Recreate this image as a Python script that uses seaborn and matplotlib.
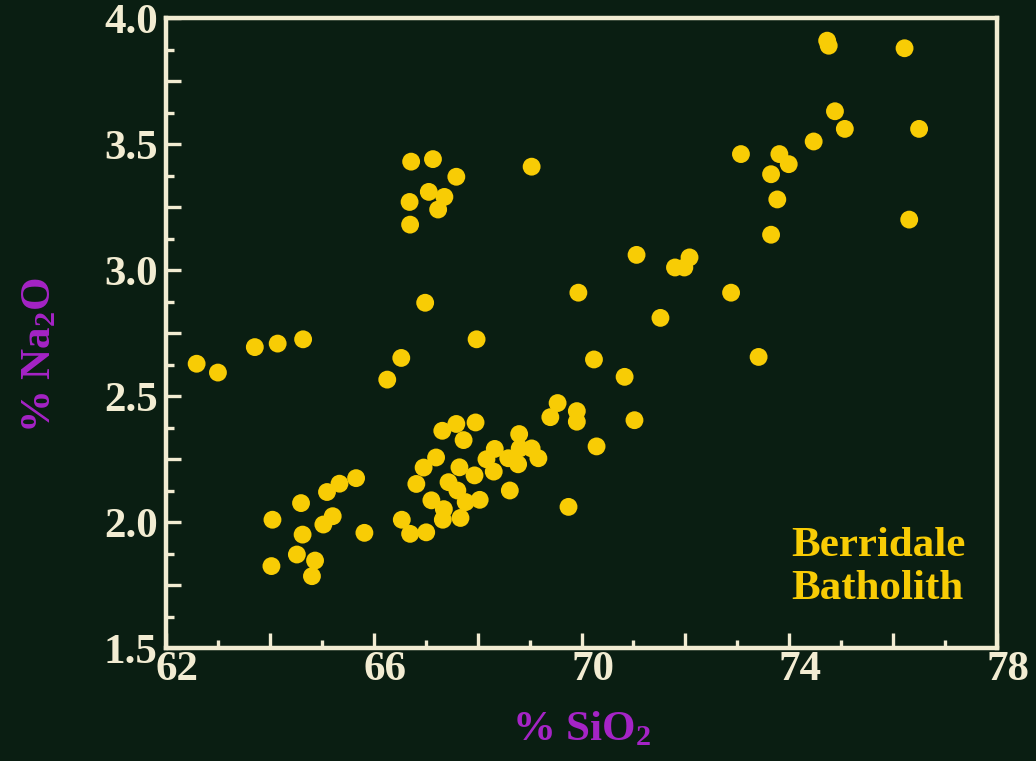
import matplotlib
matplotlib.use("Agg")
import matplotlib.pyplot as plt
import matplotlib.transforms as mtransforms
from matplotlib.ticker import MultipleLocator, FuncFormatter
import seaborn as sns
import pandas as pd

# SiO2 (%) and Na2O (%) values
sio2 = [66.72, 67.14, 67.59, 69.04, 67.06, 67.36, 66.69, 67.24, 66.70, 66.99, 69.94,
        74.73, 74.76, 76.22, 74.88, 75.07, 76.50, 74.47, 73.07, 73.81, 73.99, 73.65,
        73.77, 73.65, 76.31, 71.06, 71.80, 71.98, 72.08, 72.88, 71.52, 73.41, 70.83,
        71.02, 62.59, 63.00, 63.71, 64.15, 64.64, 67.98, 66.53, 66.26, 70.24, 69.54,
        69.40, 69.91, 69.91, 70.29, 69.75, 67.32, 67.59, 67.96, 67.73, 68.80, 67.20,
        66.96, 67.65, 67.94, 68.33, 68.17, 68.31, 68.59, 68.78, 68.81, 69.04, 69.17,
        68.62, 66.82, 67.44, 67.61, 67.11, 67.77, 68.04, 67.35, 67.33, 67.67, 66.54,
        66.70, 67.01, 65.66, 65.34, 65.10, 64.60, 64.05, 65.21, 65.03, 65.82, 64.63,
        64.52, 64.87, 64.81, 64.03]
na2o = [3.43, 3.44, 3.37, 3.41, 3.31, 3.29, 3.27, 3.24, 3.18, 2.87, 2.91,
        3.91, 3.89, 3.88, 3.63, 3.56, 3.56, 3.51, 3.46, 3.46, 3.42, 3.38,
        3.28, 3.14, 3.20, 3.06, 3.01, 3.01, 3.05, 2.91, 2.81, 2.655, 2.576,
        2.404, 2.628, 2.593, 2.694, 2.708, 2.725, 2.725, 2.651, 2.565, 2.645, 2.472,
        2.416, 2.440, 2.398, 2.300, 2.060, 2.362, 2.389, 2.395, 2.325, 2.349, 2.256,
        2.216, 2.217, 2.185, 2.290, 2.249, 2.200, 2.253, 2.229, 2.292, 2.292, 2.253,
        2.125, 2.151, 2.158, 2.125, 2.086, 2.079, 2.088, 2.051, 2.009, 2.016, 2.009,
        1.953, 1.959, 2.174, 2.152, 2.119, 2.075, 2.009, 2.023, 1.990, 1.957, 1.950,
        1.871, 1.847, 1.785, 1.825]

x_label_values = [62, 66, 70, 74, 78]
y_label_values = [1.5, 2.0, 2.5, 3.0, 3.5, 4.0]
annotation = "Berridale\nBatholith"

BG = "#0a1e12"
CREAM = "#f2ecd2"
YELLOW = "#f8cc05"
PURPLE = "#a524c6"

sns.set_theme(style="dark")
plt.rcParams["font.family"] = ["Liberation Serif", "DejaVu Serif"]
plt.rcParams["mathtext.default"] = "regular"

df = pd.DataFrame({"SiO2": sio2, "Na2O": na2o})

fig = plt.figure(figsize=(10.36, 7.61), dpi=100, facecolor=BG)
W, H = 1036, 761
ax = fig.add_axes([166 / W, 1 - 648 / H, (997 - 166) / W, (648 - 18) / H])
ax.set_facecolor(BG)

sns.scatterplot(data=df, x="SiO2", y="Na2O", ax=ax, s=165, color=YELLOW,
                edgecolor="none", linewidth=0, legend=False, zorder=3)

ax.set_xlim(62, 78)
ax.set_ylim(1.5, 4.0)
ax.grid(False)

for sp in ax.spines.values():
    sp.set_visible(True)
    sp.set_color(CREAM)
    sp.set_linewidth(3.2)

ax.xaxis.set_major_locator(MultipleLocator(2))
ax.xaxis.set_minor_locator(MultipleLocator(1))
ax.yaxis.set_major_locator(MultipleLocator(0.25))
ax.yaxis.set_minor_locator(MultipleLocator(0.125))

ax.xaxis.set_major_formatter(FuncFormatter(
    lambda v, p: f"{v:.0f}" if any(abs(v - t) < 1e-6 for t in x_label_values) else ""))
ax.yaxis.set_major_formatter(FuncFormatter(
    lambda v, p: f"{v:.1f}" if any(abs(v - t) < 1e-6 for t in y_label_values) else ""))

ax.tick_params(axis="both", which="major", direction="in", length=11, width=2.4,
               color=CREAM, labelcolor=CREAM, labelsize=31, bottom=True, left=True,
               top=False, right=False)
ax.tick_params(axis="both", which="minor", direction="in", length=6, width=2.4,
               color=CREAM, bottom=True, left=True, top=False, right=False)
ax.tick_params(axis="x", which="major", pad=2)
ax.tick_params(axis="y", which="major", pad=6)

offset = mtransforms.ScaledTranslation(11 / 100, 0, fig.dpi_scale_trans)
for lab in ax.get_xticklabels():
    lab.set_transform(lab.get_transform() + offset)
    lab.set_fontweight("bold")
for lab in ax.get_yticklabels():
    lab.set_fontweight("bold")

ax.set_xlabel("% SiO$_2$", color=PURPLE, fontsize=31, fontweight="bold", labelpad=16)
ax.set_ylabel("% Na$_2$O", color=PURPLE, fontsize=31, fontweight="bold")
ax.yaxis.set_label_coords(-0.128, 0.465)

ax.text(0.752, 0.128, annotation, transform=ax.transAxes, color=YELLOW,
        fontsize=31, fontweight="bold", ha="left", va="center", linespacing=1.15)

fig.savefig("out.png", dpi=100, facecolor=BG)
